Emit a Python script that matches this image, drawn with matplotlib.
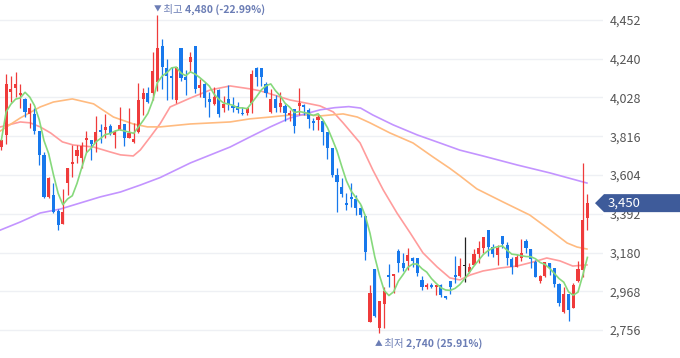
import numpy as np
import pandas as pd
import matplotlib
matplotlib.use('Agg')
import matplotlib.pyplot as plt
from matplotlib.patches import Polygon
from matplotlib.transforms import blended_transform_factory

plt.rcParams['font.family'] = ['Noto Sans CJK KR', 'DejaVu Sans']

# Daily candles (open, high, low, close), oldest first
opens = [3757, 3823, 4058, 4080, 4042, 4020, 3938, 3938, 3845, 3714,
         3484, 3495, 3407, 3336, 3560, 3664, 3708, 3697, 3796, 3796,
         3779, 3850, 3850, 3872, 3823, 3850, 3883, 3807, 3785, 3839,
         4020, 4053, 4053, 4113, 4310, 4189, 4146, 4014, 4299, 4140,
         4222, 4310, 4080, 4102, 4020, 3993, 4069, 3971, 4020, 3982,
         3982, 3943, 3943, 3998, 4189, 4189, 4102, 3949, 4020, 3976,
         3982, 3932, 3965, 3982, 3987, 3960, 3900, 3905, 3900, 3839,
         3752, 3604, 3538, 3451, 3484, 3473, 3424, 3380, 2800, 3090,
         2767, 2899, 3057, 3052, 3188, 3123, 3134, 3150, 3150, 3030,
         2992, 3002, 2992, 3002, 2942, 3024, 3057, 3052, 3106, 3073,
         3112, 3172, 3205, 3303, 3210, 3167, 3270, 3221, 3145, 3101,
         3150, 3243, 3199, 3128, 3024, 3052, 3123, 3095, 3008, 2855,
         2953, 2877, 3024, 3084, 3369]
highs = [3800, 4157, 4146, 4168, 4102, 4025, 3998, 3971, 3845, 3730,
         3593, 3560, 3418, 3528, 3642, 3768, 3768, 3785, 3845, 3796,
         3927, 3883, 3938, 3883, 3850, 3976, 3883, 3971, 3889, 4107,
         4080, 4085, 4277, 4480, 4348, 4239, 4195, 4195, 4299, 4178,
         4277, 4310, 4129, 4113, 4058, 4085, 4075, 4036, 4096, 4031,
         4003, 3976, 3976, 4178, 4195, 4189, 4113, 4075, 4042, 4058,
         3993, 3960, 3965, 4080, 3993, 3971, 3916, 3932, 3900, 3839,
         3752, 3642, 3588, 3506, 3560, 3495, 3440, 3380, 3002, 3090,
         2915, 2992, 3117, 3063, 3199, 3178, 3205, 3156, 3150, 3052,
         3013, 3013, 3002, 3008, 2942, 3024, 3161, 3150, 3265, 3123,
         3199, 3243, 3265, 3303, 3227, 3221, 3270, 3238, 3156, 3172,
         3254, 3254, 3199, 3139, 3057, 3128, 3123, 3095, 3013, 2992,
         2953, 3013, 3134, 3670, 3500]
lows = [3741, 3774, 4003, 4031, 3971, 3921, 3861, 3828, 3659, 3478,
        3478, 3396, 3303, 3336, 3495, 3593, 3670, 3642, 3730, 3686,
        3730, 3779, 3807, 3823, 3752, 3850, 3763, 3807, 3779, 3834,
        3932, 3998, 4014, 4064, 4075, 4014, 4020, 3998, 4118, 4042,
        4168, 4053, 4031, 3976, 3921, 3987, 3921, 3949, 3960, 3949,
        3943, 3932, 3932, 3943, 4091, 4091, 4031, 3943, 3949, 3949,
        3900, 3900, 3834, 3932, 3932, 3861, 3850, 3850, 3768, 3692,
        3593, 3402, 3484, 3413, 3429, 3385, 3374, 3139, 2800, 2827,
        2740, 2767, 2992, 2959, 3073, 3079, 3084, 3101, 3052, 2975,
        2981, 2986, 2948, 2937, 2926, 2953, 3013, 3046, 3019, 3068,
        3112, 3123, 3178, 3161, 3156, 3112, 3205, 3112, 3063, 3101,
        3134, 3178, 3095, 3046, 3013, 3046, 3057, 2992, 2888, 2849,
        2805, 2877, 3019, 3046, 3303]
closes = [3796, 4102, 4075, 4102, 4053, 3949, 3971, 3845, 3714, 3484,
          3588, 3402, 3331, 3402, 3642, 3675, 3741, 3763, 3807, 3774,
          3839, 3839, 3867, 3834, 3839, 3878, 3807, 3834, 3801, 4014,
          4053, 4003, 4173, 4299, 4195, 4146, 4135, 4195, 4135, 4124,
          4250, 4075, 4096, 4025, 4003, 4031, 3938, 3993, 3993, 3971,
          3960, 3938, 3971, 4157, 4140, 4140, 4053, 4020, 3971, 3998,
          3943, 3943, 3872, 3998, 3976, 3911, 3889, 3921, 3839, 3752,
          3604, 3566, 3500, 3440, 3473, 3424, 3385, 3183, 2959, 2833,
          2915, 2970, 3046, 3063, 3123, 3095, 3167, 3134, 3068, 2992,
          3002, 2992, 3002, 2948, 2931, 2992, 3046, 3106, 3106, 3101,
          3172, 3205, 3265, 3210, 3172, 3205, 3227, 3150, 3101, 3156,
          3178, 3205, 3145, 3046, 3052, 3128, 3095, 3008, 2904, 2953,
          2866, 3002, 3090, 3358, 3450]

# Longer moving averages (candle index, price)
ma20_idx = [-0.2, 4.0, 6.1, 8.2, 10.4, 12.9, 15.2, 19.5, 23.0, 25.2, 27.9, 29.4,
            31.5, 33.6, 35.7, 40.0, 44.2, 48.4, 52.6, 54.8, 59.0, 61.1, 65.3,
            67.4, 70.2, 72.3, 75.9, 78.6, 80.8, 83.7, 86.5, 89.2, 92.2, 94.9,
            97.0, 99.2, 101.9, 105.5, 109.1, 112.5, 115.4, 118.2, 120.9, 123.9]
ma20_val = [3867, 3894, 3889, 3867, 3834, 3785, 3768, 3757, 3730, 3714, 3708, 3741,
            3812, 3885, 3976, 4025, 4069, 4091, 4075, 4064, 4031, 4014, 3993,
            3982, 3949, 3889, 3779, 3631, 3522, 3396, 3287, 3178, 3101, 3041,
            3030, 3057, 3079, 3095, 3106, 3128, 3150, 3134, 3106, 3112]

ma60_idx = [-0.2, 4.0, 8.2, 11.0, 15.0, 19.5, 23.7, 27.9, 30.9, 33.6, 40.0, 48.4,
            52.6, 56.9, 61.1, 65.3, 67.4, 72.3, 75.3, 78.0, 82.2, 87.1, 91.3,
            94.9, 97.0, 100.6, 106.1, 111.8, 116.1, 119.7, 121.8, 123.9]
ma60_val = [3845, 3916, 3976, 4003, 4020, 3993, 3921, 3883, 3867, 3867, 3883, 3894,
            3911, 3921, 3932, 3932, 3927, 3938, 3921, 3889, 3834, 3779, 3703,
            3640, 3600, 3528, 3457, 3385, 3303, 3232, 3210, 3199]

ma120_idx = [-0.2, 4.0, 8.2, 12.5, 16.7, 20.9, 25.2, 29.4, 33.6, 40.0, 48.4, 52.6,
             56.9, 61.1, 65.3, 67.4, 70.5, 73.5, 76.0, 78.6, 82.9, 88.0, 92.8, 97.0,
             101.9, 109.1, 116.1, 123.9]
ma120_val = [3303, 3347, 3396, 3418, 3451, 3484, 3511, 3549, 3590, 3670, 3757, 3812,
             3867, 3916, 3945, 3960, 3972, 3978, 3970, 3932, 3878, 3823, 3779, 3740,
             3708, 3659, 3615, 3560]

y_ticks = [2756, 2968, 3180, 3392, 3604, 3816, 4028, 4240, 4452]
last_price = 3450
high_idx, high_text = 33, '4,480 (-22.99%)'
low_idx, low_text = 80, '2,740 (25.91%)'

UP = '#ef3b3b'
DOWN = '#1778ec'
LABEL = '#6b7db5'

fig = plt.figure(figsize=(6.8, 3.58), dpi=100)
ax = fig.add_axes([0, 0, 603 / 680, 1])

x = np.arange(len(closes))
o = np.array(opens)
c = np.array(closes)
colors = [UP if cc > oo else (DOWN if cc < oo else '#222222') for oo, cc in zip(o, c)]

ax.vlines(x, lows, highs, colors=colors, linewidth=0.9, zorder=3)
body_h = np.maximum(np.abs(c - o), 3)
ax.bar(x, body_h, bottom=np.minimum(o, c), width=0.66, color=colors,
       linewidth=0, zorder=3)

ma5 = pd.Series(closes).rolling(5, min_periods=1).mean()
ax.plot(x, ma5, color='#86d97c', linewidth=1.2, zorder=4)
ax.plot(ma20_idx, ma20_val, color='#ff9c9c', linewidth=1.2, zorder=2)
ax.plot(ma60_idx, ma60_val, color='#ffbb80', linewidth=1.2, zorder=2)
ax.plot(ma120_idx, ma120_val, color='#c394ff', linewidth=1.2, zorder=2)

ax.set_xlim(-0.3, 127.3)
ax.set_ylim(2603, 4561)
ax.set_yticks(y_ticks)
ax.set_yticklabels([f'{t:,}' for t in y_ticks])
ax.yaxis.tick_right()
ax.tick_params(axis='y', length=0, pad=5, labelsize=9, labelcolor='#555555')
ax.set_xticks([])
ax.grid(axis='y', color='#eef0f4', linewidth=1)
for s in ax.spines.values():
    s.set_visible(False)


def extreme_label(idx, y, arrow, word, value):
    t0 = ax.text(idx, y, arrow, color=LABEL, fontsize=5.5, va='center',
                 ha='center', clip_on=False)
    t1 = ax.annotate(' ' + word + ' ', xy=(1, 0.5), xycoords=t0, va='center',
                     ha='left', color=LABEL, fontsize=7.5)
    ax.annotate(value, xy=(1, 0.5), xycoords=t1, va='center', ha='left',
                color=LABEL, fontsize=7.5, fontweight='bold')


extreme_label(high_idx, 4507, '▼', '최고', high_text)
extreme_label(low_idx - 0.2, 2680, '▲', '최저', low_text)

# Current price tag
tr = blended_transform_factory(ax.transAxes, ax.transData)
half = 9 / 0.1828
tag = Polygon([(595 / 603, last_price), (604 / 603, last_price + half),
               (1.13, last_price + half), (1.13, last_price - half),
               (604 / 603, last_price - half)],
              closed=True, transform=tr, facecolor='#3e5b9a', edgecolor='none',
              clip_on=False, zorder=6)
ax.add_patch(tag)
ax.text(608 / 603, last_price, f'{last_price:,}', transform=tr, color='white',
        fontsize=9.5, va='center', ha='left', zorder=7, clip_on=False)

plt.savefig('out.png', dpi=100)
